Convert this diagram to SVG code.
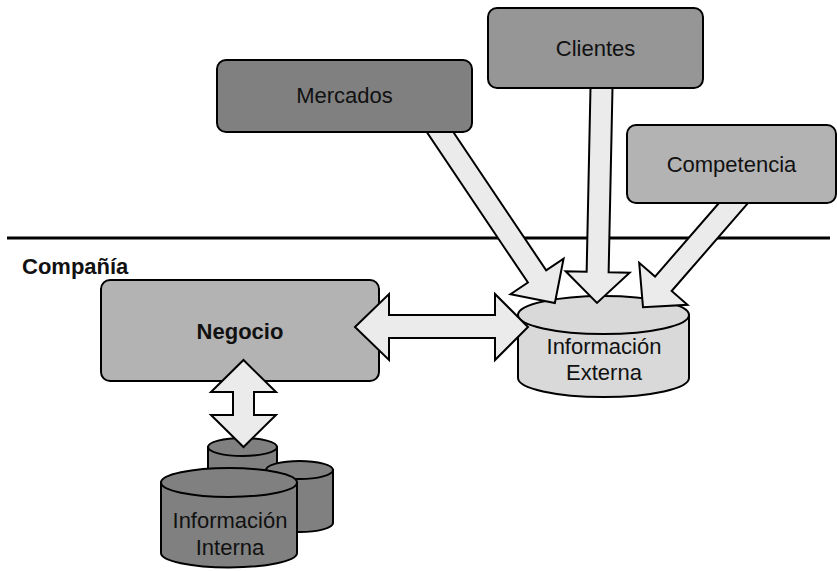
<svg xmlns="http://www.w3.org/2000/svg" width="837" height="571" viewBox="0 0 837 571">
  <style>
    .box { stroke: #000; stroke-width: 2; }
    .cyl { stroke: #000; stroke-width: 2; }
    .arrow { fill: #ebebeb; stroke: #000; stroke-width: 2; stroke-linejoin: miter; }
    .lbl { font-family: "Liberation Sans", Arial, sans-serif; font-size: 22px; fill: #111; text-anchor: middle; }
    .bold { font-weight: bold; }
  </style>
  <defs>
    <!-- block arrow pointing along +x, tip at x=0; shaft length set per use -->
  </defs>

  <rect width="837" height="571" fill="#fff"/>

  <!-- company boundary -->
  <line x1="7" y1="238" x2="830" y2="238" stroke="#000" stroke-width="3"/>
  <text class="lbl bold" x="22" y="274" style="text-anchor:start">Compañía</text>

  <g id="negocio">
    <rect class="box" x="101" y="280" width="278" height="101" rx="9" fill="#b3b3b3"/>
    <text class="lbl bold" x="240" y="339">Negocio</text>
  </g>

  <g id="info-externa">
    <path class="cyl" fill="#d9d9d9" d="M518,315 L518,378 A85.5,19 0 0 0 689,378 L689,315 Z"/>
    <ellipse class="cyl" fill="#d9d9d9" cx="603.5" cy="315" rx="85.5" ry="19"/>
    <text class="lbl" x="604" y="354">Información</text>
    <text class="lbl" x="604" y="380">Externa</text>
  </g>

  <g id="info-interna">
    <!-- rear store -->
    <path class="cyl" fill="#808080" d="M208,447 L208,490 L277,490 L277,447 Z"/>
    <ellipse class="cyl" fill="#808080" cx="242.5" cy="447" rx="34.5" ry="9"/>
    <!-- right store -->
    <path class="cyl" fill="#808080" d="M266,470 L266,523 A33.5,9 0 0 0 333,523 L333,470 Z"/>
    <ellipse class="cyl" fill="#808080" cx="299.5" cy="470" rx="33.5" ry="9"/>
    <!-- front store -->
    <path class="cyl" fill="#808080" d="M161,482.5 L161,553 A68,14.5 0 0 0 297,553 L297,482.5 Z"/>
    <ellipse class="cyl" fill="#808080" cx="229" cy="482.5" rx="68" ry="14.5"/>
    <text class="lbl" x="230" y="528">Información</text>
    <text class="lbl" x="230" y="555">Interna</text>
  </g>

  <g id="connectors">
    <!-- Mercados -> Información Externa -->
    <polygon class="arrow" transform="translate(434.4,123.7) rotate(56.1)"
      points="0,-11 184,-11 184,-32 216,0 184,32 184,11 0,11"/>
    <!-- Clientes -> Información Externa -->
    <polygon class="arrow" transform="translate(601.7,78) rotate(91.2)"
      points="0,-11 194,-11 194,-32 225,0 194,32 194,11 0,11"/>
    <!-- Competencia -> Información Externa -->
    <polygon class="arrow" transform="translate(740.1,195.5) rotate(131)"
      points="0,-11 117,-11 117,-32 148,0 117,32 117,11 0,11"/>
    <!-- Negocio <-> Información Externa -->
    <polygon class="arrow"
      points="355,327 389,294 389,315 495,315 495,294 528,327 495,360 495,338 389,338 389,360"/>
    <!-- Negocio <-> Información Interna -->
    <polygon class="arrow"
      points="243.5,360 276,392 254,392 254,415 276,415 243.5,447 211,415 233,415 233,392 211,392"/>
  </g>

  <g id="mercados">
    <rect class="box" x="217" y="60" width="255" height="72" rx="9" fill="#808080"/>
    <text class="lbl" x="344.5" y="103">Mercados</text>
  </g>

  <g id="clientes">
    <rect class="box" x="488" y="8" width="215" height="80" rx="9" fill="#969696"/>
    <text class="lbl" x="595.5" y="56">Clientes</text>
  </g>

  <g id="competencia">
    <rect class="box" x="627" y="125" width="209" height="78" rx="9" fill="#b3b3b3"/>
    <text class="lbl" x="731.5" y="172">Competencia</text>
  </g>
</svg>
